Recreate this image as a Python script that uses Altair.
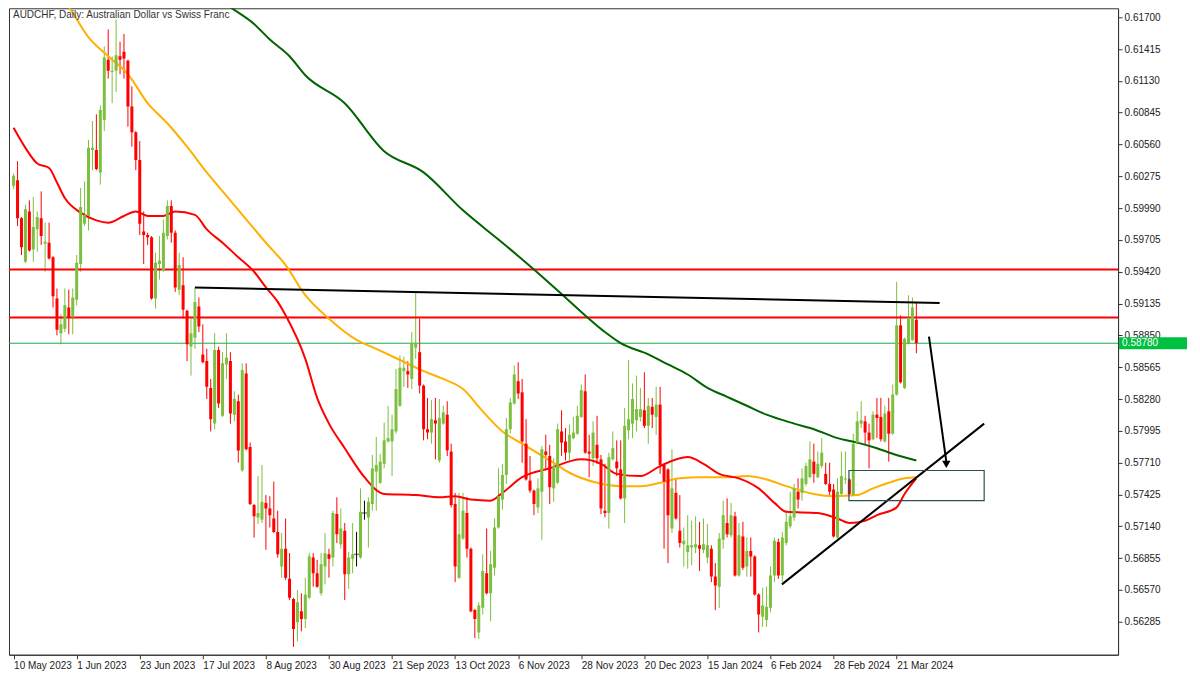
import altair as alt
import pandas as pd

# ---------------- data ----------------
opens = [0.6019,0.6024,0.5990,0.5951,0.5996,0.5962,0.5980,0.5990,0.5967,0.5968,
0.5955,0.5918,0.5887,0.5891,0.5910,0.5901,0.5917,0.5949,0.5985,0.5992,
0.6051,0.6051,0.6031,0.6078,0.6132,0.6121,0.6122,0.6135,0.6139,0.6131,
0.6090,0.6067,0.6042,0.5978,0.5975,0.5973,0.5918,0.5949,0.5943,0.5974,
0.6001,0.5977,0.5926,0.5930,0.5907,0.5875,0.5883,0.5911,0.5868,0.5862,
0.5838,0.5806,0.5872,0.5813,0.5859,0.5862,0.5814,0.5826,0.5764,0.5851,
0.5785,0.5733,0.5722,0.5720,0.5735,0.5730,0.5721,0.5709,0.5678,0.5694,
0.5667,0.5649,0.5628,0.5638,0.5631,0.5650,0.5686,0.5672,0.5654,0.5678,
0.5689,0.5686,0.5725,0.5698,0.5710,0.5671,0.5685,0.5689,0.5686,0.5726,
0.5722,0.5734,0.5763,0.5753,0.5770,0.5790,0.5790,0.5799,0.5822,0.5853,
0.5853,0.5846,0.5874,0.5870,0.5840,0.5801,0.5798,0.5809,0.5773,0.5806,
0.5814,0.5781,0.5734,0.5668,0.5703,0.5726,0.5694,0.5639,0.5619,0.5641,
0.5672,0.5654,0.5677,0.5713,0.5738,0.5760,0.5801,0.5824,0.5844,0.5834,
0.5788,0.5755,0.5746,0.5731,0.5745,0.5781,0.5777,0.5748,0.5753,0.5799,
0.5790,0.5780,0.5793,0.5797,0.5812,0.5835,0.5781,0.5775,0.5787,0.5774,
0.5728,0.5726,0.5774,0.5772,0.5765,0.5739,0.5800,0.5806,0.5809,0.5812,
0.5818,0.5804,0.5821,0.5812,0.5823,0.5769,0.5765,0.5712,0.5744,0.5710,
0.5698,0.5691,0.5695,0.5695,0.5697,0.5693,0.5686,0.5694,0.5669,0.5660,
0.5702,0.5717,0.5706,0.5723,0.5670,0.5705,0.5678,0.5692,0.5687,0.5653,
0.5633,0.5630,0.5641,0.5670,0.5700,0.5670,0.5699,0.5714,0.5722,0.5745,
0.5744,0.5752,0.5758,0.5772,0.5758,0.5768,0.5761,0.5752,0.5747,0.5704,
0.5743,0.5756,0.5756,0.5742,0.5789,0.5806,0.5808,0.5798,0.5792,0.5814,
0.5812,0.5790,0.5817,0.5797,0.5832,0.5894,0.5838,0.5878,0.5881,0.5899]

closes = [0.6028,0.5990,0.5964,0.5998,0.5961,0.5982,0.5991,0.5974,0.5969,0.5954,
0.5920,0.5890,0.5895,0.5912,0.5901,0.5919,0.5950,0.6000,0.5993,0.6053,
0.6053,0.6034,0.6087,0.6134,0.6122,0.6122,0.6136,0.6132,0.6133,0.6090,
0.6067,0.6042,0.5985,0.5975,0.5973,0.5918,0.5950,0.5952,0.5977,0.6001,
0.5977,0.5928,0.5948,0.5908,0.5877,0.5887,0.5915,0.5893,0.5861,0.5839,
0.5810,0.5872,0.5824,0.5860,0.5865,0.5815,0.5828,0.5782,0.5854,0.5783,
0.5734,0.5723,0.5726,0.5736,0.5730,0.5724,0.5709,0.5689,0.5694,0.5668,
0.5650,0.5622,0.5646,0.5631,0.5653,0.5687,0.5672,0.5660,0.5680,0.5690,
0.5685,0.5726,0.5707,0.5712,0.5671,0.5686,0.5689,0.5689,0.5727,0.5726,
0.5736,0.5766,0.5769,0.5772,0.5791,0.5793,0.5801,0.5837,0.5856,0.5856,
0.5850,0.5878,0.5878,0.5840,0.5801,0.5798,0.5810,0.5806,0.5811,0.5816,
0.5782,0.5733,0.5678,0.5707,0.5728,0.5694,0.5638,0.5631,0.5643,0.5674,
0.5654,0.5680,0.5713,0.5741,0.5760,0.5801,0.5825,0.5850,0.5833,0.5790,
0.5756,0.5746,0.5734,0.5748,0.5783,0.5778,0.5749,0.5768,0.5801,0.5789,
0.5780,0.5796,0.5798,0.5813,0.5836,0.5780,0.5779,0.5798,0.5775,0.5730,
0.5726,0.5776,0.5784,0.5766,0.5739,0.5804,0.5810,0.5828,0.5819,0.5819,
0.5804,0.5822,0.5814,0.5823,0.5769,0.5754,0.5724,0.5748,0.5721,0.5699,
0.5701,0.5697,0.5697,0.5698,0.5694,0.5698,0.5697,0.5669,0.5661,0.5703,
0.5724,0.5707,0.5724,0.5670,0.5706,0.5677,0.5692,0.5687,0.5653,0.5635,
0.5643,0.5642,0.5670,0.5701,0.5670,0.5704,0.5718,0.5723,0.5748,0.5738,
0.5757,0.5768,0.5774,0.5761,0.5770,0.5780,0.5752,0.5745,0.5705,0.5745,
0.5759,0.5757,0.5743,0.5788,0.5808,0.5809,0.5798,0.5791,0.5814,0.5811,
0.5792,0.5815,0.5797,0.5832,0.5894,0.5843,0.5882,0.5901,0.5910,0.5878]

highs = [0.6030,0.6041,0.5991,0.6002,0.6006,0.6009,0.5996,0.6014,0.5986,0.5986,
0.5956,0.5927,0.5904,0.5927,0.5926,0.5927,0.5957,0.6017,0.6023,0.6060,
0.6077,0.6083,0.6091,0.6144,0.6159,0.6135,0.6168,0.6148,0.6155,0.6132,
0.6108,0.6068,0.6059,0.5996,0.5977,0.5974,0.5959,0.5974,0.5989,0.6006,
0.6006,0.5979,0.5959,0.5955,0.5908,0.5900,0.5928,0.5919,0.5895,0.5873,
0.5846,0.5887,0.5875,0.5870,0.5887,0.5870,0.5835,0.5832,0.5860,0.5860,
0.5789,0.5734,0.5759,0.5769,0.5742,0.5741,0.5754,0.5728,0.5708,0.5721,
0.5690,0.5650,0.5657,0.5654,0.5668,0.5690,0.5690,0.5684,0.5690,0.5708,
0.5694,0.5728,0.5740,0.5730,0.5717,0.5691,0.5717,0.5709,0.5748,0.5737,
0.5740,0.5778,0.5794,0.5779,0.5807,0.5822,0.5814,0.5855,0.5867,0.5866,
0.5862,0.5888,0.5923,0.5900,0.5841,0.5829,0.5827,0.5829,0.5828,0.5822,
0.5826,0.5788,0.5744,0.5744,0.5744,0.5740,0.5695,0.5640,0.5646,0.5689,
0.5712,0.5692,0.5721,0.5766,0.5770,0.5811,0.5829,0.5858,0.5861,0.5846,
0.5810,0.5777,0.5747,0.5757,0.5786,0.5796,0.5787,0.5775,0.5806,0.5818,
0.5802,0.5805,0.5812,0.5822,0.5841,0.5850,0.5796,0.5808,0.5813,0.5778,
0.5770,0.5780,0.5799,0.5791,0.5791,0.5820,0.5863,0.5842,0.5849,0.5838,
0.5852,0.5829,0.5829,0.5839,0.5839,0.5770,0.5766,0.5783,0.5757,0.5742,
0.5713,0.5724,0.5719,0.5723,0.5718,0.5721,0.5716,0.5697,0.5681,0.5708,
0.5737,0.5739,0.5735,0.5727,0.5717,0.5718,0.5704,0.5704,0.5688,0.5654,
0.5659,0.5660,0.5678,0.5704,0.5703,0.5709,0.5727,0.5745,0.5752,0.5757,
0.5766,0.5771,0.5790,0.5788,0.5781,0.5793,0.5771,0.5771,0.5752,0.5757,
0.5781,0.5781,0.5757,0.5797,0.5817,0.5826,0.5813,0.5806,0.5817,0.5829,
0.5829,0.5822,0.5829,0.5841,0.5933,0.5903,0.5883,0.5921,0.5919,0.5915]

lows = [0.6016,0.5983,0.5957,0.5950,0.5960,0.5951,0.5960,0.5966,0.5942,0.5953,
0.5910,0.5885,0.5877,0.5888,0.5886,0.5886,0.5912,0.5942,0.5983,0.5979,
0.6033,0.6033,0.6020,0.6068,0.6115,0.6093,0.6103,0.6119,0.6115,0.6072,
0.6054,0.6033,0.5975,0.5949,0.5966,0.5917,0.5909,0.5935,0.5942,0.5971,
0.5968,0.5924,0.5921,0.5900,0.5862,0.5849,0.5873,0.5888,0.5860,0.5828,
0.5799,0.5801,0.5820,0.5812,0.5846,0.5806,0.5808,0.5771,0.5763,0.5782,
0.5733,0.5704,0.5716,0.5717,0.5693,0.5713,0.5708,0.5686,0.5668,0.5666,
0.5648,0.5606,0.5611,0.5620,0.5623,0.5649,0.5660,0.5659,0.5652,0.5662,
0.5668,0.5678,0.5699,0.5694,0.5648,0.5658,0.5672,0.5678,0.5685,0.5720,
0.5695,0.5728,0.5728,0.5752,0.5766,0.5789,0.5759,0.5797,0.5821,0.5839,
0.5838,0.5837,0.5864,0.5833,0.5791,0.5792,0.5788,0.5774,0.5771,0.5805,
0.5777,0.5731,0.5664,0.5667,0.5702,0.5686,0.5637,0.5614,0.5613,0.5635,
0.5653,0.5629,0.5670,0.5712,0.5729,0.5752,0.5797,0.5823,0.5828,0.5771,
0.5755,0.5744,0.5724,0.5726,0.5702,0.5766,0.5734,0.5736,0.5752,0.5777,
0.5773,0.5773,0.5792,0.5796,0.5811,0.5779,0.5758,0.5768,0.5770,0.5725,
0.5722,0.5712,0.5773,0.5759,0.5738,0.5717,0.5792,0.5793,0.5799,0.5808,
0.5802,0.5788,0.5802,0.5796,0.5761,0.5694,0.5681,0.5708,0.5720,0.5695,
0.5678,0.5676,0.5679,0.5690,0.5674,0.5690,0.5681,0.5664,0.5639,0.5641,
0.5694,0.5704,0.5704,0.5669,0.5669,0.5675,0.5669,0.5669,0.5652,0.5619,
0.5624,0.5624,0.5637,0.5664,0.5667,0.5664,0.5697,0.5712,0.5719,0.5730,
0.5737,0.5750,0.5757,0.5753,0.5757,0.5766,0.5751,0.5742,0.5704,0.5703,
0.5742,0.5752,0.5741,0.5741,0.5788,0.5802,0.5787,0.5766,0.5791,0.5793,
0.5790,0.5789,0.5772,0.5796,0.5831,0.5842,0.5837,0.5877,0.5880,0.5869]

# moving averages (bar index, price)
ma_red_i = [0,3,6,9,11,13,17,21,24,28,31,34,38,41,46,49,53,57,61,64,67,69,74,77,80,84,89,94,
            102,108,112,116,121,124,129,136,144,149,153,159,164,171,175,179,184,189,193,196,
            204,209,212,216,219,224,226,229]
ma_red_p = [0.6071,0.6053,0.6039,0.6035,0.6022,0.6008,0.5995,0.5988,0.5986,0.5992,0.5996,0.5992,
            0.5992,0.5996,0.5993,0.5980,0.5968,0.5955,0.5942,0.5928,0.5915,0.5903,0.5864,0.5829,
            0.5806,0.5784,0.5758,0.5743,0.5742,0.5740,0.5741,0.5738,0.5737,0.5744,0.5758,0.5766,
            0.5774,0.5770,0.5761,0.5759,0.5768,0.5776,0.5770,0.5761,0.5757,0.5748,0.5735,0.5727,
            0.5726,0.5721,0.5717,0.5719,0.5724,0.5731,0.5743,0.5757]
ma_orange_i = [12,14,19,24,29,34,39,44,49,54,59,64,69,74,80,87,92,98,104,109,114,119,124,129,
               136,141,148,154,159,164,169,174,181,186,191,196,203,208,214,218,222,226,229]
ma_orange_p = [0.6187,0.6179,0.6152,0.6135,0.6119,0.6093,0.6075,0.6054,0.6031,0.6010,0.5989,
               0.5968,0.5948,0.5921,0.5900,0.5881,0.5873,0.5863,0.5853,0.5846,0.5837,0.5817,
               0.5799,0.5788,0.5773,0.5762,0.5753,0.5750,0.5750,0.5753,0.5757,0.5758,0.5758,
               0.5759,0.5756,0.5750,0.5743,0.5741,0.5742,0.5748,0.5753,0.5757,0.5758]
ma_green_i = [52,55,61,65,70,74,84,94,104,114,124,132,139,144,150,154,161,166,171,176,181,186,
              191,198,203,209,214,219,223,229]
ma_green_p = [0.6187,0.6179,0.6164,0.6150,0.6135,0.6118,0.6093,0.6050,0.6031,0.5997,0.5968,
              0.5944,0.5922,0.5906,0.5888,0.5878,0.5868,0.5859,0.5850,0.5838,0.5830,0.5822,
              0.5814,0.5806,0.5801,0.5793,0.5789,0.5784,0.5779,0.5773]

date_labels = ["10 May 2023","1 Jun 2023","23 Jun 2023","17 Jul 2023","8 Aug 2023",
               "30 Aug 2023","21 Sep 2023","13 Oct 2023","6 Nov 2023","28 Nov 2023",
               "20 Dec 2023","15 Jan 2024","6 Feb 2024","28 Feb 2024","21 Mar 2024"]
price_ticks = [0.56285,0.56570,0.56855,0.57140,0.57425,0.57710,0.57995,0.58280,0.58565,
               0.58850,0.59135,0.59420,0.59705,0.59990,0.60275,0.60560,0.60845,0.61130,
               0.61415,0.61700]

red_levels = [0.5944, 0.5901]
last_price = 0.5878
resist_i = [46, 234.9]
resist_p = [0.5928, 0.5914]
trend_i = [194.9, 246.2]
trend_p = [0.5662, 0.5806]
arrow_i = [232.2, 236.6]
arrow_p = [0.5884, 0.5772]
box_i = [211.9, 246.2]
box_p = [0.5764, 0.5737]

# ---------------- chart ----------------
W, H = 1110, 647
FONT = "Liberation Sans"
xscale = alt.Scale(domain=[0.1, 278.9], nice=False, zero=False)
yscale = alt.Scale(domain=[0.5599, 0.6178], nice=False, zero=False)

n = len(closes)
df = pd.DataFrame({"i": list(range(n)), "open": opens, "high": highs,
                   "low": lows, "close": closes})
df["dir"] = ["up" if c > o else ("down" if c < o else "flat") for o, c in zip(opens, closes)]
color = alt.Color("dir:N", scale=alt.Scale(domain=["up", "down", "flat"],
                                           range=["#7dbf3e", "#ff0000", "#000000"]), legend=None)

label_expr = "[" + ",".join("'%s'" % s for s in date_labels) + "][round(datum.value/16)]"
xaxis = alt.Axis(values=[16 * k for k in range(len(date_labels))], labelExpr=label_expr,
                 title=None, labelAlign="left", labelBaseline="top", labelPadding=2,
                 tickSize=4, labelFont=FONT, labelFontSize=10, labelColor="#222222",
                 domainColor="#333333", tickColor="#333333", labelFlush=False,
                 labelOverlap=False)
yaxis = alt.Axis(orient="right", values=price_ticks, format=".5f", title=None,
                 tickSize=4, labelPadding=2, labelFont=FONT, labelFontSize=10,
                 labelColor="#222222", domainColor="#333333", tickColor="#333333",
                 labelOverlap=False, labelFlush=False, labelSeparation=0)

X = alt.X("i:Q", scale=xscale, axis=xaxis)
Y = lambda f: alt.Y(f, scale=yscale, axis=yaxis)

base = alt.Chart(df)

wicks = base.mark_rule(strokeWidth=1, clip=True).encode(
    x=X, y=Y("low:Q"), y2="high:Q", color=color)
bodies = base.mark_bar(size=3, clip=True).encode(
    x=X, y=Y("open:Q"), y2="close:Q", color=color)
doji = base.transform_filter("datum.dir == 'flat'").mark_tick(
    orient="horizontal", size=5, thickness=1, color="black", clip=True).encode(
    x=X, y=Y("close:Q"))

lev = alt.Chart(pd.DataFrame({"p": red_levels})).mark_rule(
    color="#ff0000", strokeWidth=2).encode(y=Y("p:Q"))
cur = alt.Chart(pd.DataFrame({"p": [last_price]})).mark_rule(
    color="#1aaa44", strokeWidth=1).encode(y=Y("p:Q"))

def ma(ix, px, col):
    return alt.Chart(pd.DataFrame({"i": ix, "p": px})).mark_line(
        color=col, strokeWidth=2, clip=True, interpolate="monotone").encode(
        x=X, y=Y("p:Q"))

ma_red = ma(ma_red_i, ma_red_p, "#ff0000")
ma_orange = ma(ma_orange_i, ma_orange_p, "#ffb000")
ma_green = ma(ma_green_i, ma_green_p, "#006400")

def seg(ix, px, w=2):
    return alt.Chart(pd.DataFrame({"i": ix, "p": px})).mark_line(
        color="black", strokeWidth=w, clip=True).encode(x=X, y=Y("p:Q"))

resist = seg(resist_i, resist_p)
trend = seg(trend_i, trend_p)
arrow = seg(arrow_i, arrow_p)
head = alt.Chart(pd.DataFrame({"i": [arrow_i[1]], "p": [arrow_p[1] - 0.00025]})).mark_point(
    shape="triangle-down", size=70, filled=True, color="black", opacity=1).encode(
    x=X, y=Y("p:Q"))

box = alt.Chart(pd.DataFrame({"x1": [box_i[0]], "x2": [box_i[1]],
                              "y1": [box_p[0]], "y2": [box_p[1]]})).mark_rect(
    fill=None, stroke="#2f4f4f", strokeWidth=1.2, clip=True).encode(
    x=alt.X("x1:Q", scale=xscale, axis=xaxis), x2="x2:Q", y=Y("y1:Q"), y2="y2:Q")

title = alt.Chart(pd.DataFrame({"t": ["AUDCHF, Daily:  Australian Dollar vs Swiss Franc"]})).mark_text(
    align="left", baseline="middle", font=FONT, fontSize=10, color="#333333").encode(
    x=alt.value(4), y=alt.value(7), text="t:N")

tag_df = pd.DataFrame({"p": [last_price], "hi": [last_price + 0.00054],
                       "lo": [last_price - 0.00054], "t": ["%.5f" % last_price]})
tag_box = alt.Chart(tag_df).mark_rect(color="#00c040", clip=False).encode(
    x=alt.value(W + 1), x2=alt.value(W + 69), y=Y("hi:Q"), y2="lo:Q")
tag_txt = alt.Chart(tag_df).mark_text(align="left", baseline="middle", font=FONT,
                                      fontSize=10, color="white", clip=False).encode(
    x=alt.value(W + 4), y=Y("p:Q"), text="t:N")

chart = alt.layer(wicks, lev, cur, ma_green, ma_orange, ma_red, bodies, doji,
                  resist, trend, arrow, head, box, title, tag_box, tag_txt).properties(
    width=W, height=H, padding={"left": 0, "top": 0, "right": 5, "bottom": 2},
    background="white"
).configure_view(stroke="#333333", strokeWidth=1).configure_axis(
    grid=False, labelOverlap=False).configure_axisY(labelOverlap=False)

chart.save("out.html", embed_options={"renderer": "svg", "actions": False})
